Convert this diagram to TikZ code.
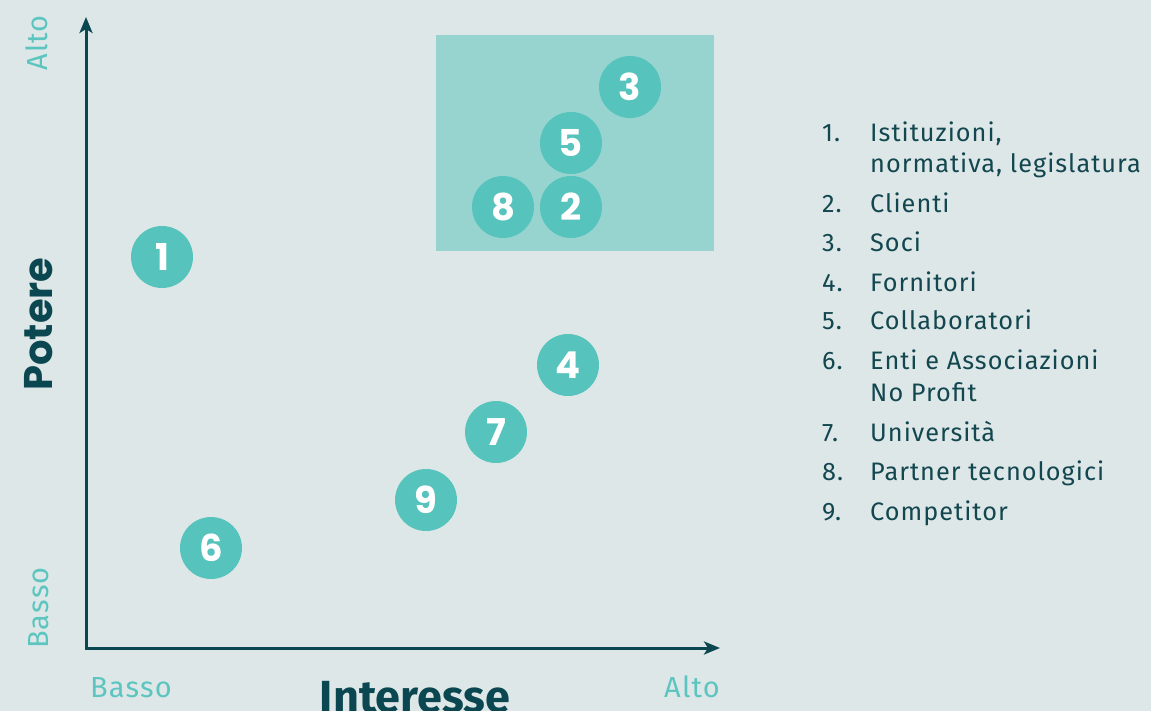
\documentclass[tikz,border=0pt]{standalone}
\usepackage{fontspec}
\setmainfont{Fira Sans}
\newfontfamily\legfont{Fira Sans}[LetterSpace=4]
\newfontfamily\numfont{Poppins}
\usetikzlibrary{arrows.meta}
\definecolor{bg}{HTML}{DEE7E8}
\definecolor{boxc}{HTML}{97D4D0}
\definecolor{dotc}{HTML}{56C3BD}
\definecolor{dark}{HTML}{0B4750}
\definecolor{lite}{HTML}{5CC5BF}
\definecolor{legc}{HTML}{12474F}
\begin{document}
\begin{tikzpicture}[x=1pt,y=-1pt,
 dot/.style={circle,fill=dotc,minimum size=62pt,inner sep=0pt,text=white,font=\numfont\bfseries\fontsize{37}{37}\selectfont},
 axis/.style={draw=dark,line width=3pt,{Stealth[length=16pt,width=13pt,inset=4pt]}-{Stealth[length=16pt,width=13pt,inset=4pt]}},
 lvl/.style={text=lite,font=\legfont\fontsize{29}{29}\selectfont,inner sep=0pt},
 ttl/.style={text=dark,inner sep=0pt},
 leg/.style={anchor=base west,inner sep=0pt,text=legc,font=\legfont\fontsize{25.3}{25.3}\selectfont}]
\fill[bg] (0,0) rectangle (1151,711);
\useasboundingbox (0,0) rectangle (1151,711);
\node[fill=boxc,minimum width=278pt,minimum height=216pt,inner sep=0pt] (zone) at (575,143) {};
\coordinate (O) at (86,648);
\coordinate (ytip) at (86,17);
\coordinate (xtip) at (720,648);
\draw[axis] (ytip) -- (O) -- (xtip);
\node[dot] (n1) at (162,257) {1};
\node[dot] (n6) at (211,548) {6};
\node[dot] (n9) at (426,500) {9};
\node[dot] (n7) at (496,432) {7};
\node[dot] (n4) at (568,365) {4};
\node[dot] (n8) at (503,207) {8};
\node[dot] (n2) at (571,207) {2};
\node[dot] (n5) at (571,143) {5};
\node[dot] (n3) at (630,87) {3};
\node[lvl,rotate=90,anchor=base east] (yhi) at (47,15) {Alto};
\node[lvl,rotate=90,anchor=base west] (ylo) at (48,649) {Basso};
\node[lvl,anchor=base west] (xlo) at (90,697) {Basso};
\node[lvl,anchor=base east] (xhi) at (720,697) {Alto};
\node[ttl,rotate=90,anchor=base,font=\numfont\bfseries\fontsize{40}{40}\selectfont] (ylab) at (52,324) {Potere};
\node[ttl,anchor=north,font=\bfseries\fontsize{45}{45}\selectfont] (xlab) at (415,681) {Interesse};
\node[leg] (l1) at (822,141.7) {1.};
\node[leg] (t1) at (870,141.7) {Istituzioni,};
\node[leg] (t1b) at (870,172.5) {normativa, legislatura};
\node[leg] (l2) at (822,212.5) {2.};
\node[leg] (t2) at (870,212.5) {Clienti};
\node[leg] (l3) at (822,251.7) {3.};
\node[leg] (t3) at (870,251.7) {Soci};
\node[leg] (l4) at (822,291) {4.};
\node[leg] (t4) at (870,291) {Fornitori};
\node[leg] (l5) at (822,330) {5.};
\node[leg] (t5) at (870,330) {Collaboratori};
\node[leg] (l6) at (822,369.5) {6.};
\node[leg] (t6) at (870,369.5) {Enti e Associazioni};
\node[leg] (t6b) at (870,401) {No Profit};
\node[leg] (l7) at (822,441) {7.};
\node[leg] (t7) at (870,441) {Università};
\node[leg] (l8) at (822,480.5) {8.};
\node[leg] (t8) at (870,480.5) {Partner tecnologici};
\node[leg] (l9) at (822,520) {9.};
\node[leg] (t9) at (870,520) {Competitor};
\end{tikzpicture}
\end{document}
